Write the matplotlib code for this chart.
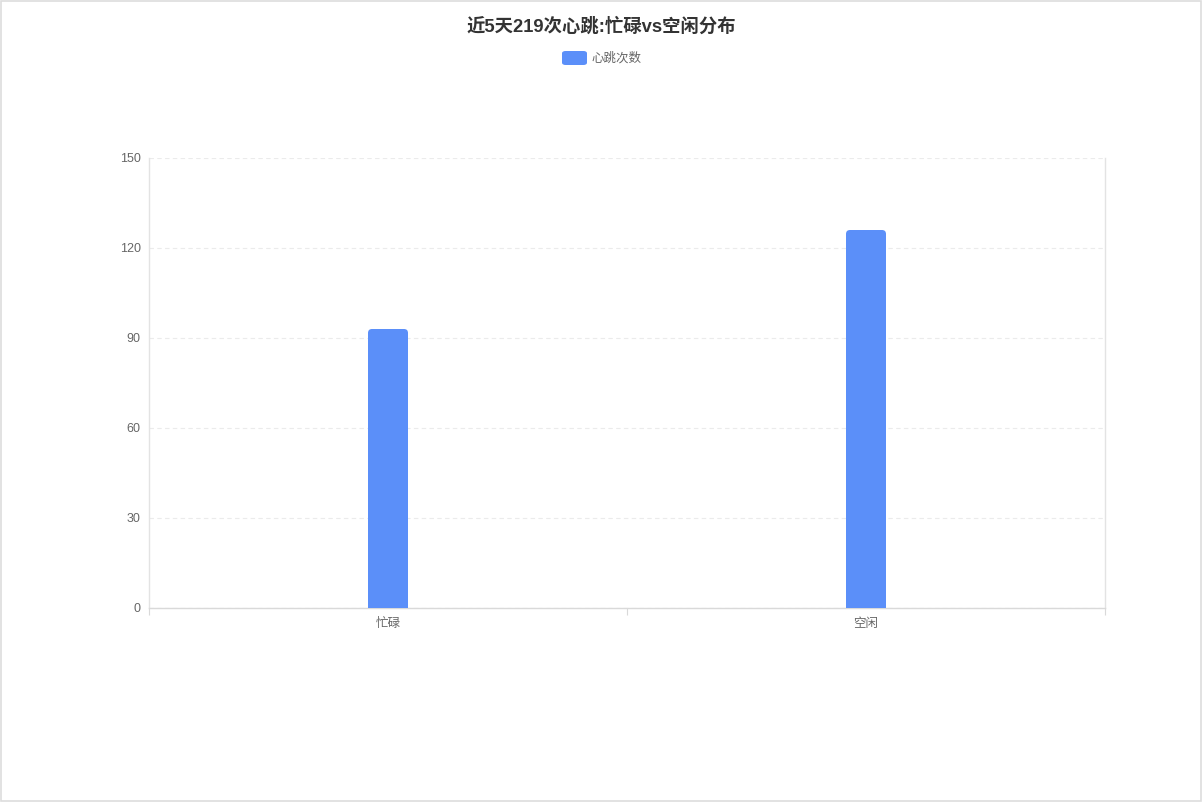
import matplotlib
matplotlib.use("Agg")
import matplotlib.pyplot as plt
from matplotlib.patches import FancyBboxPatch, Rectangle

plt.rcParams['font.family'] = ['Liberation Sans', 'Noto Sans CJK SC', 'DejaVu Sans']

categories = ["忙碌", "空闲"]
counts = [93, 126]
series_name = "心跳次数"
title = "近5天219次心跳:忙碌vs空闲分布"
yticks = [0, 30, 60, 90, 120, 150]

BAR_COLOR = "#5b8ff9"
GRID_COLOR = "#ebebeb"
TEXT_COLOR = "#666666"

W, H = 1202, 802
fig = plt.figure(figsize=(W / 100, H / 100), dpi=100)
# plot area in pixels: x 149..1105, y 158..608
ax = fig.add_axes([149 / W, 1 - 608 / H, (1105 - 149) / W, (608 - 158) / H])

xs = list(range(len(categories)))
bar_w = 40 / 478
bars = ax.bar(xs, counts, width=bar_w, color=BAR_COLOR, zorder=3)
ax.set_xlim(-0.5, len(categories) - 0.5)
ax.set_ylim(0, 150)

# swap plain bars for ones with rounded top corners
px_x = 478.0   # pixels per x unit
px_y = 3.0     # pixels per y unit
r_px = 4
for b in bars:
    x0, w, h = b.get_x(), b.get_width(), b.get_height()
    b.set_visible(False)
    rx = r_px / px_x
    ax.add_patch(FancyBboxPatch((x0, 0), w, h,
                                boxstyle=f"round,pad=0,rounding_size={rx}",
                                mutation_aspect=px_x / px_y,
                                fc=BAR_COLOR, ec="none", zorder=3))
    # square off the bottom corners
    ax.add_patch(Rectangle((x0, 0), w, h / 2, fc=BAR_COLOR, ec="none", zorder=3))

ax.set_yticks(yticks)
ax.set_yticklabels([str(v) for v in yticks])
ax.yaxis.grid(True, color=GRID_COLOR, linestyle=(0, (4, 3)), linewidth=0.8, zorder=0)
ax.tick_params(axis="y", length=0, pad=6, labelsize=9, labelcolor=TEXT_COLOR)

ax.set_xticks(xs)
ax.set_xticklabels(categories)
ax.tick_params(axis="x", which="major", length=0, pad=7, labelsize=9, labelcolor=TEXT_COLOR)
ax.set_xticks([i - 0.5 for i in range(len(categories) + 1)], minor=True)
ax.tick_params(axis="x", which="minor", length=5, width=0.8, color="#d9d9d9")

for side in ("left", "right", "bottom"):
    ax.spines[side].set_color("#e3e3e3")
    ax.spines[side].set_linewidth(1.0)
ax.spines["bottom"].set_color("#d9d9d9")
ax.spines["top"].set_visible(False)

fig.text(601 / W, 1 - 27 / H, title, ha="center", va="center",
         fontsize=13.2, fontweight="bold", color="#333333")

# legend
fig.patches.append(FancyBboxPatch((562 / W, 1 - 65 / H), 25 / W, 14 / H,
                                  boxstyle="round,pad=0,rounding_size=0.003",
                                  transform=fig.transFigure, fc=BAR_COLOR, ec="none"))
fig.text(591 / W, 1 - 58 / H, series_name, ha="left", va="center",
         fontsize=9, color=TEXT_COLOR)

# outer border, kept one pixel inside the canvas
fig.patches.append(Rectangle((1 / W, 1 / H), 1 - 2 / W, 1 - 2 / H,
                             transform=fig.transFigure, fill=False,
                             ec="#dddddd", lw=1.2))

fig.savefig("out.png", dpi=100)
